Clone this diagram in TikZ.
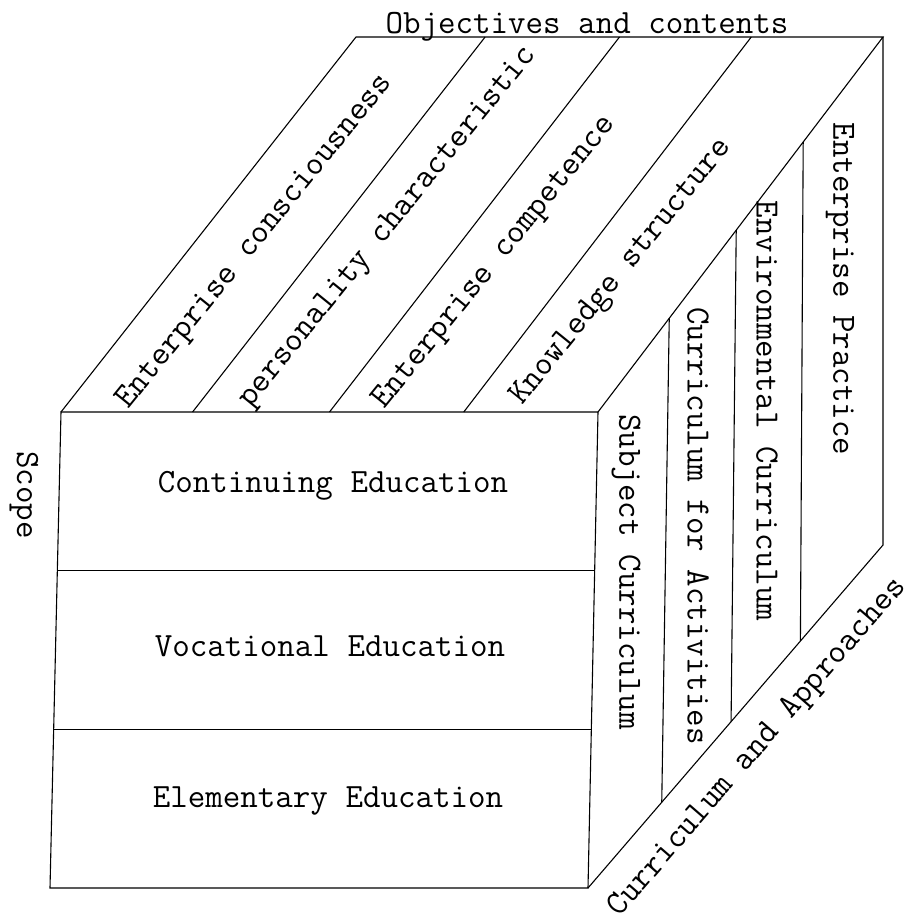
\documentclass[tikz,border=0pt]{standalone}
\usetikzlibrary{calc}
\begin{document}
\begin{tikzpicture}[x=1pt,y=-1pt,line width=1pt,
  lbl/.style={font=\ttfamily\fontsize{34}{34}\selectfont, inner sep=0pt},
  edge/.style={line width=1.1pt}]
\useasboundingbox (0,0) rectangle (908,921);
% cube corners
\coordinate (FTL) at (61,412);
\coordinate (FTR) at (598,412);
\coordinate (FBR) at (588,888);
\coordinate (FBL) at (50,888);
\coordinate (BTL) at (356,37);
\coordinate (BTR) at (883,37);
\coordinate (BBR) at (883,545);
% front face
\draw[edge] (FTL) -- (FTR) -- (FBR) -- (FBL) -- cycle;
\draw[edge] ($(FTL)!1/3!(FBL)$) -- ($(FTR)!1/3!(FBR)$);
\draw[edge] ($(FTL)!2/3!(FBL)$) -- ($(FTR)!2/3!(FBR)$);
% top face
\draw[edge] (FTL) -- (BTL) -- (BTR) -- (FTR);
\foreach \t in {0.245,0.5,0.75}
  \draw[edge] ($(FTL)!\t!(FTR)$) -- ($(BTL)!\t!(BTR)$);
% right face
\draw[edge] (BTR) -- (BBR) -- (FBR);
\foreach \t in {0.25,0.485,0.72}
  \draw[edge] ($(FTR)!\t!(BTR)$) -- ($(FBR)!\t!(BBR)$);
% labels
\node[lbl, anchor=base] (obj) at (587,33) {Objectives and contents};
\node[lbl, rotate=-90] (scope) at (24,495) {Scope};
\node[lbl] (cont) at (333,486) {Continuing Education};
\node[lbl] (voc) at (330,646) {Vocational Education};
\node[lbl] (elem) at (328,801) {Elementary Education};
\node[lbl, rotate=51, anchor=base west] (t1) at (128,410) {Enterprise consciousness};
\node[lbl, rotate=51, anchor=base west] (t2) at (250,409) {personality characteristic};
\node[lbl, rotate=51, anchor=base west] (t3) at (384,410) {Enterprise competence};
\node[lbl, rotate=51, anchor=base west] (t4) at (522,406) {Knowledge structure};
\node[lbl, rotate=-90] (r1) at (626,572) {Subject Curriculum};
\node[lbl, rotate=-90] (r2) at (698,526) {Curriculum for Activities};
\node[lbl, rotate=-90] (r3) at (767,411) {Environmental Curriculum};
\node[lbl, rotate=-90] (r4) at (840,289) {Enterprise Practice};
\node[lbl, rotate=49] (ca) at (758,748) {Curriculum and Approaches};
\end{tikzpicture}
\end{document}
